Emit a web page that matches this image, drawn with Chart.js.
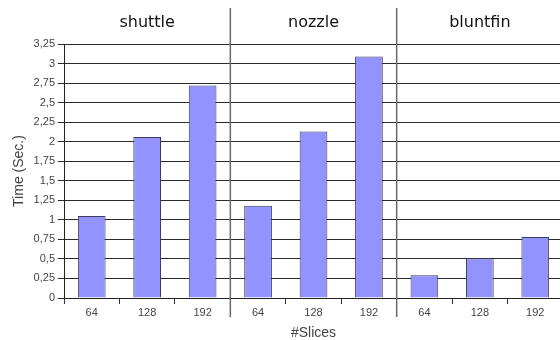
<!DOCTYPE html>
<html>
<head>
<meta charset="utf-8">
<script src="https://cdn.jsdelivr.net/npm/chart.js@4/dist/chart.umd.min.js"></script>
<style>
html,body{margin:0;padding:0;background:#fff;overflow:hidden;}
#wrap{width:570px;height:340px;}
</style>
</head>
<body>
<div id="wrap"><canvas id="c" width="570" height="340"></canvas></div>
<script>
const groups = ["shuttle", "nozzle", "bluntfin"];
const slices = ["64", "128", "192"];
const categories = ["64", "128", "192", "64", "128", "192", "64", "128", "192"];
const times = [1.05, 2.06, 2.72, 1.18, 2.13, 3.09, 0.29, 0.51, 0.78];
const yTicks = [0, 0.25, 0.5, 0.75, 1, 1.25, 1.5, 1.75, 2, 2.25, 2.5, 2.75, 3, 3.25];

const sans = '"Liberation Sans", Arial, sans-serif';

const groupPlugin = {
  id: 'groupPlugin',
  afterDraw(chart) {
    const ctx = chart.ctx;
    const x = chart.scales.x;
    const n = slices.length;
    ctx.save();
    ctx.strokeStyle = '#6a6a6a';
    ctx.lineWidth = 1.5;
    for (let g = 1; g < groups.length; g++) {
      const px = (x.getPixelForValue(g * n - 1) + x.getPixelForValue(g * n)) / 2;
      ctx.beginPath();
      ctx.moveTo(px, 8);
      ctx.lineTo(px, 317);
      ctx.stroke();
    }
    ctx.fillStyle = '#111';
    ctx.font = '16px "DejaVu Sans", Verdana, sans-serif';
    ctx.textAlign = 'center';
    ctx.textBaseline = 'middle';
    groups.forEach((g, i) => {
      const px = (x.getPixelForValue(i * n) + x.getPixelForValue(i * n + n - 1)) / 2;
      ctx.fillText(g, px, 23);
    });
    ctx.restore();
  }
};

new Chart(document.getElementById('c'), {
  type: 'bar',
  data: {
    labels: categories,
    datasets: [{
      data: times,
      backgroundColor: '#9393ff',
      borderColor: '#3a3a5a',
      borderWidth: 1,
      categoryPercentage: 1,
      barPercentage: 0.5
    }]
  },
  options: {
    responsive: false,
    animation: false,
    layout: { padding: { top: 44, right: 7, bottom: 0, left: 0 } },
    plugins: { legend: { display: false }, tooltip: { enabled: false } },
    scales: {
      x: {
        offset: true,
        grid: { offset: true, drawOnChartArea: false, color: '#333', tickLength: 6 },
        border: { display: true, color: '#222', width: 1 },
        ticks: { color: '#444', padding: 2, font: { family: sans, size: 11 }, maxRotation: 0 },
        title: { display: true, text: '#Slices', color: '#444', padding: { top: 0, bottom: 0 }, font: { family: sans, size: 14, lineHeight: 1 } },
        afterFit(s) { s.height = 42; }
      },
      y: {
        min: 0,
        max: 3.25,
        afterBuildTicks(s) { s.ticks = yTicks.map(v => ({ value: v })); },
        grid: { color: '#2a2a2a', lineWidth: 1, tickLength: 6 },
        border: { display: true, color: '#222', width: 1 },
        ticks: {
          color: '#444', padding: 3,
          font: { family: sans, size: 11 },
          callback: v => String(v).replace('.', ',')
        },
        title: { display: true, text: 'Time (Sec.)', color: '#444', padding: { top: 11, bottom: 0 }, font: { family: sans, size: 14 } },
        afterFit(s) { s.width = 64; }
      }
    }
  },
  plugins: [groupPlugin]
});
</script>
</body>
</html>
